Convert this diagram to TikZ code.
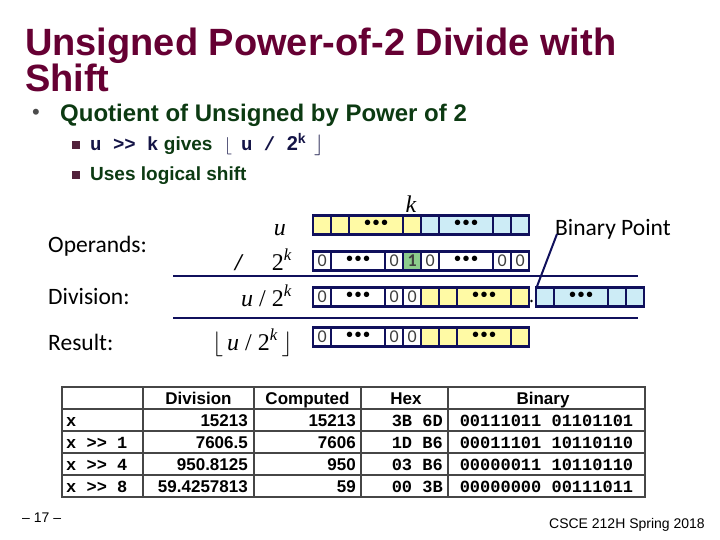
\documentclass[tikz,border=0pt]{standalone}
\usepackage{fontspec}
\setmainfont{Liberation Sans}
\setmonofont{Liberation Mono}
\newfontfamily\labelfont{Carlito}
\newfontfamily\seriffont{Liberation Serif}
\usepackage{xcolor}
\usepackage{tikz}
\usetikzlibrary{positioning, calc}

\definecolor{titlered}{RGB}{102,0,51}
\definecolor{bulletgreen}{RGB}{12,58,18}
\definecolor{squaremark}{RGB}{82,34,60}
\definecolor{codenavy}{RGB}{20,20,70}
\definecolor{bitnavy}{RGB}{16,16,92}
\definecolor{bityellow}{RGB}{255,250,165}
\definecolor{bitblue}{RGB}{205,236,246}
\definecolor{bitgreen}{RGB}{140,204,140}
\definecolor{tablegray}{RGB}{70,70,70}

\newcommand{\shiftr}{>\kern0pt>}
\newcommand{\bitdots}{{\normalfont\fontsize{20}{20}\selectfont\color{black}•\kern1.5pt•\kern1.5pt•}}
\newcommand{\bitcell}[6]{%
    \node[bit_cell, fill=#5, minimum width=#4] (#1) at (#2, #3) {#6};
}

\begin{document}
\begin{tikzpicture}[
        x=1pt, y=-1pt,
        bit_cell/.style={draw=bitnavy, line width=2.2pt, anchor=west, minimum height=19,
            inner sep=0pt, font=\labelfont\fontsize{18}{18}\selectfont, text=black!75},
        row_label/.style={anchor=west, inner sep=0pt, font=\labelfont\fontsize{23.5}{24}\selectfont},
        math_label/.style={anchor=base east, inner sep=0pt, font=\seriffont\fontsize{24}{24}\selectfont},
        sep_line/.style={draw=bitnavy, line width=2pt},
        tab_head/.style={anchor=base, inner sep=0pt, font=\bfseries\fontsize{17}{17}\selectfont},
        tab_num/.style={anchor=base east, inner sep=0pt, font=\bfseries\fontsize{17}{17}\selectfont},
        tab_code/.style={inner sep=0pt, font=\ttfamily\bfseries\fontsize{17}{17}\selectfont}
    ]
    \useasboundingbox (0,0) rectangle (720,540);

    % =========================================================================
    % 1. TITLE AND BULLETS
    % =========================================================================
    \node[anchor=base west, inner sep=0pt, align=left, text=titlered,
          font=\bfseries\fontsize{38}{35}\selectfont] (title) at (25,92)
        {Unsigned Power-of-2 Divide with\\Shift};
    \node[inner sep=0pt, text=black!70, font=\fontsize{22}{22}\selectfont] (dot1) at (36,114) {•};
    \node[anchor=base west, inner sep=0pt, text=bulletgreen,
          font=\bfseries\fontsize{24}{24}\selectfont] (main) at (60,122)
        {Quotient of Unsigned by Power of 2};
    \node[fill=squaremark, minimum size=8, inner sep=0pt] (sq1) at (76,145) {};
    \node[fill=squaremark, minimum size=8, inner sep=0pt] (sq2) at (76,175) {};
    \node[anchor=base west, inner sep=0pt, text=bulletgreen,
          font=\bfseries\fontsize{19}{19}\selectfont] (sub1) at (90,151)
        {{\ttfamily\color{codenavy}u \shiftr{} k} gives\hspace{12pt}%
         {\color{codenavy}$\lfloor$\hspace{9pt}{\ttfamily u / }\fontsize{20}{20}\selectfont 2\textsuperscript{k}\hspace{8pt}$\rfloor$}};
    \node[anchor=base west, inner sep=0pt, text=bulletgreen,
          font=\bfseries\fontsize{19}{19}\selectfont] (sub2) at (90,181)
        {Uses logical shift};

    % =========================================================================
    % 2. ROW LABELS
    % =========================================================================
    \node[row_label] (ops) at (48,246) {Operands:};
    \node[row_label] (divl) at (48,297) {Division:};
    \node[row_label] (resl) at (48,342) {Result:};

    \node[math_label] (mu) at (286,236) {\itshape u};
    \node[math_label] (mpow) at (292,270) {{\bfseries\itshape /}\hspace{30pt}2\textsuperscript{\itshape k}};
    \node[math_label] (mdiv) at (292,306) {\itshape u\upshape{} / 2\textsuperscript{\itshape k}};
    \node[math_label] (mres) at (293,350) {$\lfloor$\,\itshape u\upshape{} / 2\textsuperscript{\itshape k}\,$\rfloor$};

    \node[inner sep=0pt, font=\seriffont\itshape\fontsize{24}{24}\selectfont] (klab) at (411,204) {k};

    % =========================================================================
    % 3. BIT VECTORS
    % =========================================================================
    % operand u
    \bitcell{u1}{312}{225}{18}{bityellow}{}
    \bitcell{u2}{330}{225}{18}{bityellow}{}
    \bitcell{u3}{348}{225}{54}{bityellow}{\bitdots}
    \bitcell{u4}{402}{225}{18}{bityellow}{}
    \bitcell{u5}{420}{225}{18}{bitblue}{}
    \bitcell{u6}{438}{225}{54}{bitblue}{\bitdots}
    \bitcell{u7}{492}{225}{18}{bitblue}{}
    \bitcell{u8}{510}{225}{18}{bitblue}{}

    % divisor 2^k
    \bitcell{p1}{312}{261}{18}{white}{0}
    \bitcell{p2}{330}{261}{54}{white}{\bitdots}
    \bitcell{p3}{384}{261}{18}{white}{0}
    \bitcell{p4}{402}{261}{18}{bitgreen}{\bfseries 1}
    \bitcell{p5}{420}{261}{18}{white}{0}
    \bitcell{p6}{438}{261}{54}{white}{\bitdots}
    \bitcell{p7}{492}{261}{18}{white}{0}
    \bitcell{p8}{510}{261}{18}{white}{0}

    % exact quotient
    \bitcell{q1}{312}{297}{18}{white}{0}
    \bitcell{q2}{330}{297}{54}{white}{\bitdots}
    \bitcell{q3}{384}{297}{18}{white}{0}
    \bitcell{q4}{402}{297}{18}{white}{0}
    \bitcell{q5}{420}{297}{18}{bityellow}{}
    \bitcell{q6}{438}{297}{18}{bityellow}{}
    \bitcell{q7}{456}{297}{54}{bityellow}{\bitdots}
    \bitcell{q8}{510}{297}{18}{bityellow}{}
    \bitcell{f1}{535}{297}{18}{bitblue}{}
    \bitcell{f2}{553}{297}{54}{bitblue}{\bitdots}
    \bitcell{f3}{607}{297}{18}{bitblue}{}
    \bitcell{f4}{625}{297}{18}{bitblue}{}

    % truncated result
    \bitcell{r1}{312}{337}{18}{white}{0}
    \bitcell{r2}{330}{337}{54}{white}{\bitdots}
    \bitcell{r3}{384}{337}{18}{white}{0}
    \bitcell{r4}{402}{337}{18}{white}{0}
    \bitcell{r5}{420}{337}{18}{bityellow}{}
    \bitcell{r6}{438}{337}{18}{bityellow}{}
    \bitcell{r7}{456}{337}{54}{bityellow}{\bitdots}
    \bitcell{r8}{510}{337}{18}{bityellow}{}

    % separator rules
    \draw[sep_line] (173,276) -- (638,276);
    \draw[sep_line] (173,318) -- (638,318);

    % binary point
    \node[anchor=base west, inner sep=0pt, font=\labelfont\fontsize{23.5}{24}\selectfont] (bplab) at (555,236) {Binary Point};
    \fill[black] (531.5,301) circle (1.4);
    \coordinate (bpend) at (536,289);
    \draw[bitnavy, line width=2pt] ($(bplab.base west)+(2,-2)$) -- (bpend);

    % =========================================================================
    % 4. RESULTS TABLE
    % =========================================================================
    \draw[tablegray, line width=1.5pt] (62,387) rectangle (645,497);
    \foreach \yy in {409,431,453,475}
        \draw[tablegray, line width=1.1pt] (62,\yy) -- (645,\yy);
    \foreach \xx in {143,254,361,448}
        \draw[tablegray, line width=1.1pt] (\xx,387) -- (\xx,497);

    \node[tab_head] (hdiv) at (198.5,404) {Division};
    \node[tab_head] (hcomp) at (307.5,404) {Computed};
    \node[tab_head] (hhex) at (406,404) {Hex};
    \node[tab_head] (hbin) at (543,404) {Binary};

    \foreach \lab/\dv/\cp/\hx/\bn [count=\i] in {
            x/15213/15213/3B 6D/00111011 01101101,
            x \shiftr{} 1/7606.5/7606/1D B6/00011101 10110110,
            x \shiftr{} 4/950.8125/950/03 B6/00000011 10110110,
            x \shiftr{} 8/59.4257813/59/00 3B/00000000 00111011} {
        \pgfmathsetmacro{\ry}{404+22*\i}
        \node[tab_code, anchor=base west] (lab\i) at (66,\ry) {\lab};
        \node[tab_num] (div\i) at (248,\ry) {\dv};
        \node[tab_num] (cmp\i) at (356,\ry) {\cp};
        \node[tab_code, anchor=base east] (hex\i) at (443,\ry) {\hx};
        \node[tab_code, anchor=base] (bin\i) at (546.5,\ry) {\bn};
    }

    % =========================================================================
    % 5. FOOTER
    % =========================================================================
    \node[anchor=base west, inner sep=0pt, font=\fontsize{14}{14}\selectfont] (page) at (22,522) {– 17 –};
    \node[anchor=base east, inner sep=0pt, font=\fontsize{14}{14}\selectfont] (course) at (705,528) {CSCE 212H Spring 2018};

\end{tikzpicture}
\end{document}
